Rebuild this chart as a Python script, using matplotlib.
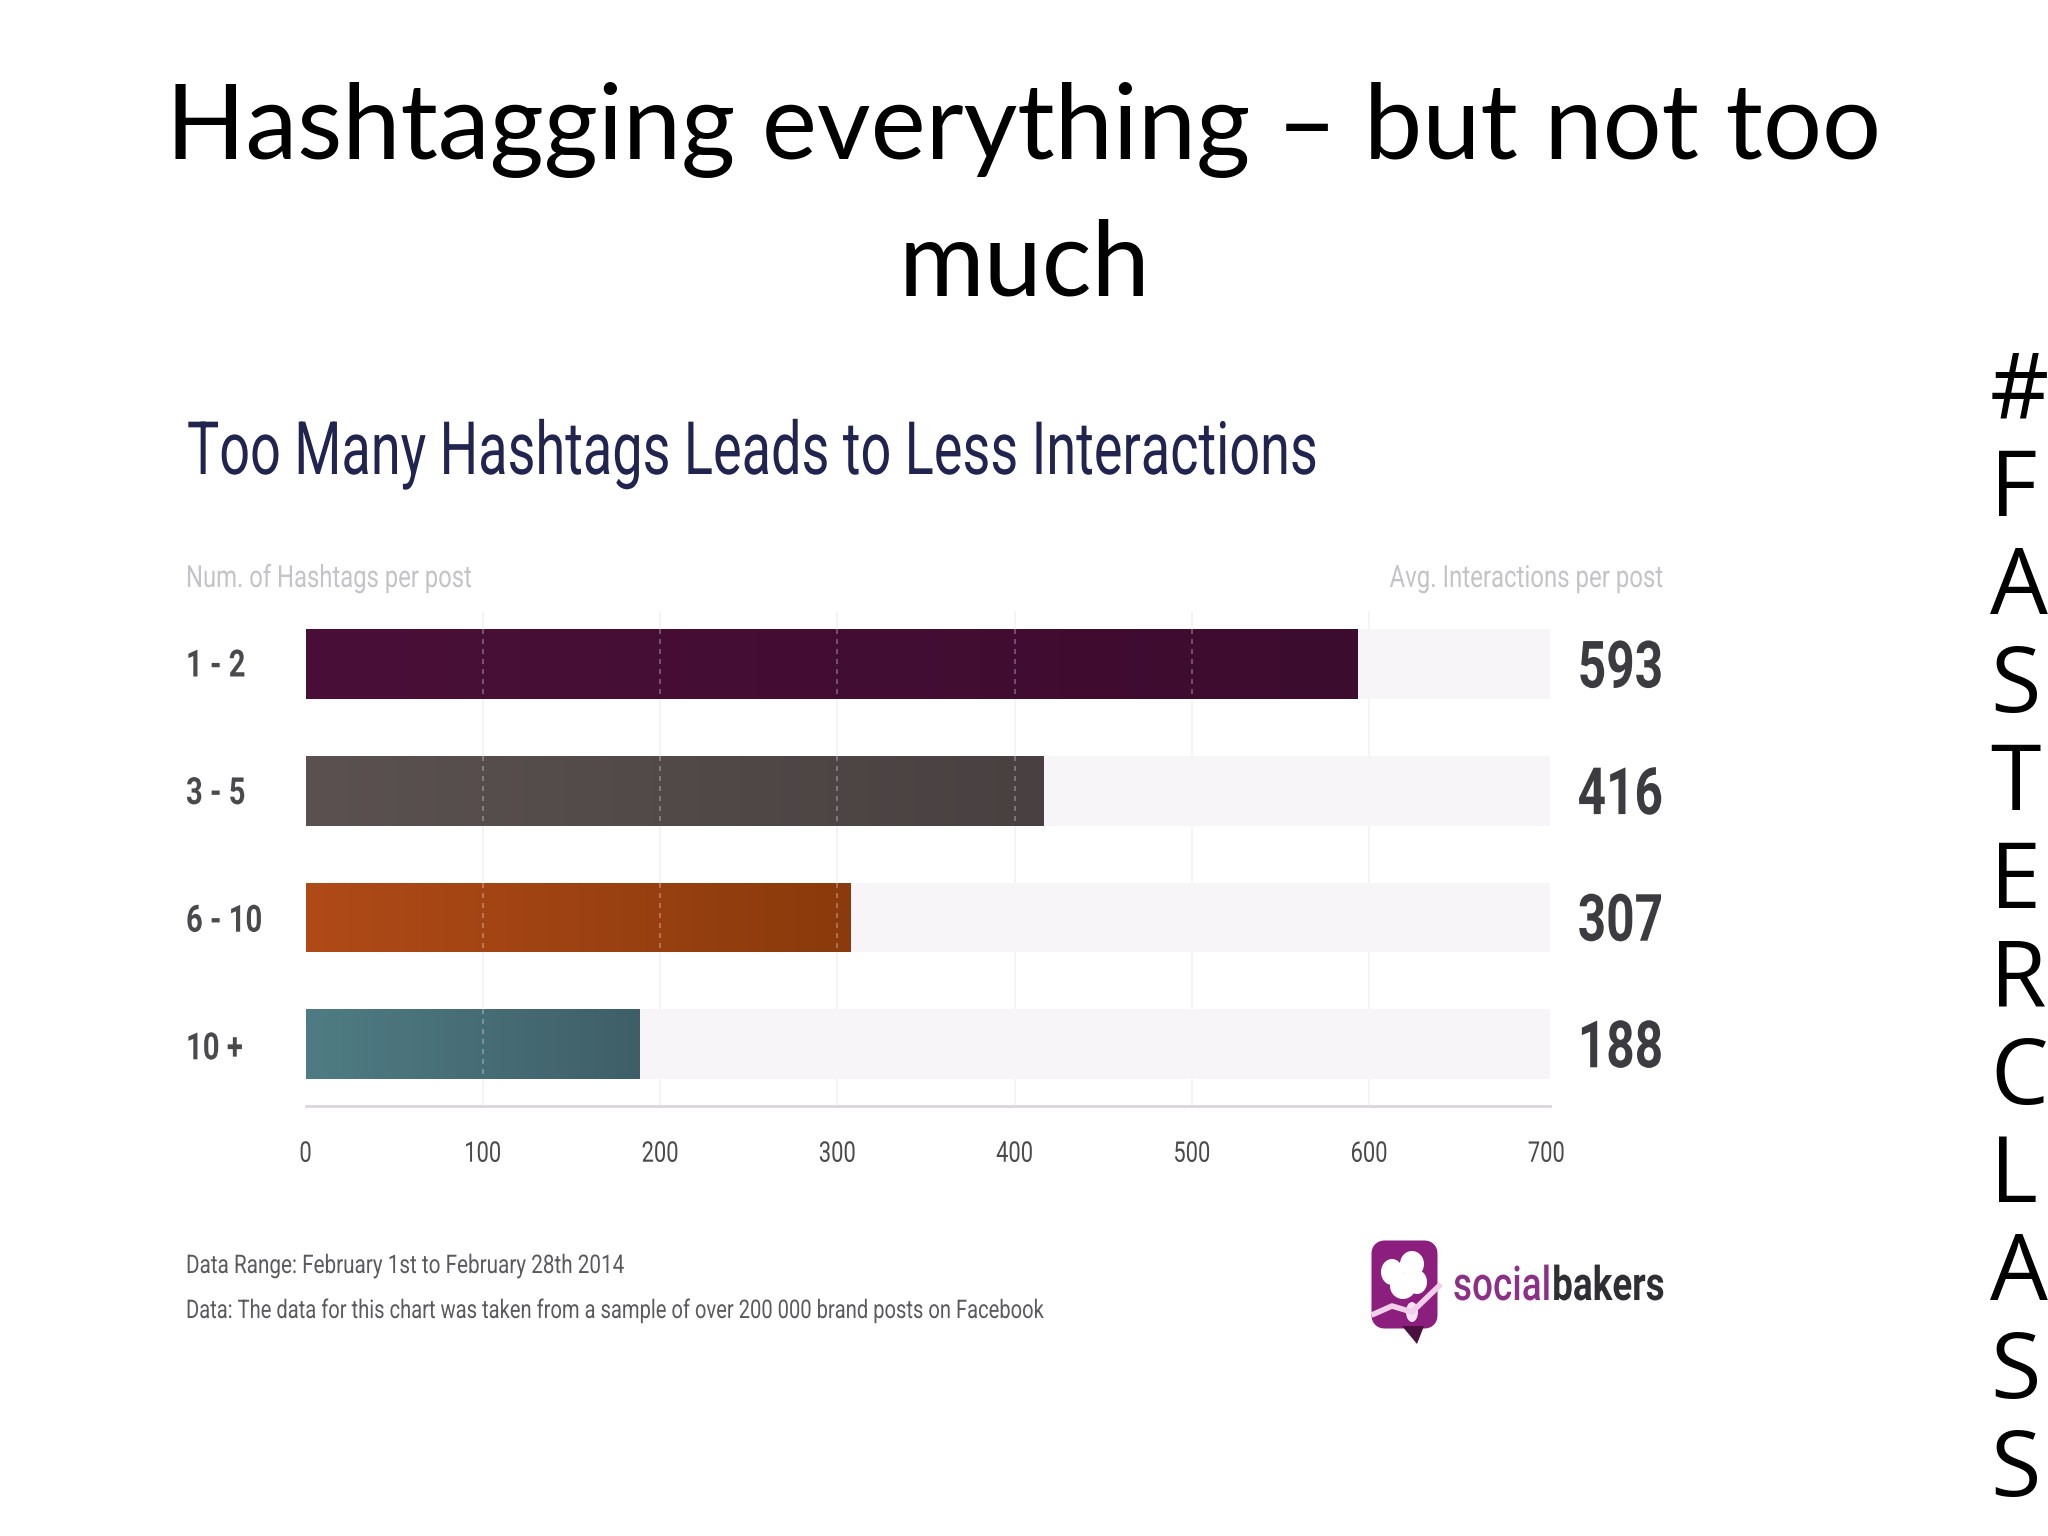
import numpy as np
import matplotlib
matplotlib.use("Agg")
import matplotlib.pyplot as plt
from matplotlib.patches import FancyBboxPatch, Polygon, Ellipse
from matplotlib.patheffects import AbstractPathEffect
from matplotlib.transforms import Affine2D
from matplotlib.colors import LinearSegmentedColormap

hashtag_bins = ["1 - 2", "3 - 5", "6 - 10", "10 +"]
interactions = [593, 416, 307, 188]
bar_left_colors = ["#4a0f38", "#5a5150", "#b04a18", "#4f7c84"]
bar_right_colors = ["#3c0c2e", "#494141", "#8a3a0c", "#3f5f68"]
x_ticks = [0, 100, 200, 300, 400, 500, 600, 700]
x_max = 702
slide_title = ["Hashtagging everything – but not too", "much"]
chart_title = "Too Many Hashtags Leads to Less Interactions"
left_header = "Num. of Hashtags per post"
right_header = "Avg. Interactions per post"
note_range = "Data Range: February 1st to February 28th 2014"
note_data = "Data: The data for this chart was taken from a sample of over 200 000 brand posts on Facebook"
side_text = "#FASTERCLASS"

W, H = 2048, 1536
FONT = "Roboto"


class Condense(AbstractPathEffect):
    """Squeeze a text horizontally about a pixel column (the font has no narrow cut)."""

    def __init__(self, sx, x_px):
        super().__init__()
        self.sx, self.x_px = sx, x_px

    def draw_path(self, renderer, gc, tpath, affine, rgbFace=None):
        squeeze = Affine2D().translate(-self.x_px, 0).scale(self.sx, 1).translate(self.x_px, 0)
        renderer.draw_path(gc, tpath, affine + squeeze, rgbFace)


fig = plt.figure(figsize=(W / 100, H / 100), dpi=100, facecolor="white")

# Full-slide layer in pixel coordinates for the text and logo
bg = fig.add_axes([0, 0, 1, 1], zorder=3)
bg.set_xlim(0, W)
bg.set_ylim(H, 0)
bg.axis("off")
bg.patch.set_alpha(0)


def narrow(x, y, s, sx, anchor=None, **kw):
    t = bg.text(x, y, s, family=FONT, **kw)
    t.set_path_effects([Condense(sx, x if anchor is None else anchor)])
    return t


# Chart axes
left, right, top, bottom = 305.6, 1550, 611, 1106
ax = fig.add_axes([left / W, 1 - bottom / H, (right - left) / W, (bottom - top) / H], zorder=1)
y = np.arange(len(interactions))
ax.barh(y, [x_max] * len(y), height=0.55, color="#f7f5f8", zorder=1)
bars = ax.barh(y, interactions, height=0.55, color=bar_left_colors, zorder=2)
for bar, c0, c1 in zip(bars, bar_left_colors, bar_right_colors):
    cmap = LinearSegmentedColormap.from_list("g", [c0, c1])
    x0, y0, bw, bh = bar.get_x(), bar.get_y(), bar.get_width(), bar.get_height()
    im = ax.imshow(np.linspace(0, 1, 256)[None, :], extent=(x0, x0 + bw, y0 + bh, y0),
                   cmap=cmap, aspect="auto", zorder=2.5)
    im.set_clip_path(bar)
ax.set_xlim(0, x_max)
ax.set_ylim(3.49, -0.42)
ax.set_xticks(x_ticks)
ax.set_xticklabels([str(t) for t in x_ticks], family=FONT, fontsize=20.5, color="#4a4a4a")
ax.set_yticks([])
ax.tick_params(axis="x", length=0, pad=25)
for lab, t in zip(ax.get_xticklabels(), x_ticks):
    lab.set_path_effects([Condense(0.77, left + (right - left) * t / x_max)])
for s in ["top", "right", "left"]:
    ax.spines[s].set_visible(False)
ax.spines["bottom"].set_color("#d9d7da")
ax.spines["bottom"].set_linewidth(2)
for t in x_ticks[1:-1]:
    ax.axvline(t, color="#f3f1f4", lw=1.2, zorder=0.5)
    for i, v in enumerate(interactions):
        if t < v:
            ax.plot([t, t], [i - 0.275, i + 0.275], color="white", alpha=0.33,
                    lw=1.2, ls=(0, (3, 3)), zorder=3)

# Slide title and side text
for py, line in zip([159, 295], slide_title):
    bg.text(1024, py, line, ha="center", va="baseline", family="Lato", fontsize=75, color="black")
for i, ch in enumerate(side_text):
    bg.text(1990, 418 + i * 98, ch, ha="left", va="baseline", family="Open Sans",
            fontsize=66, color="black", clip_on=False)

# Chart texts
narrow(187, 474, chart_title, 0.734, fontsize=53, color="#20244f", va="baseline")
narrow(186, 587, left_header, 0.78, fontsize=22, color="#c4c4c6", va="baseline")
narrow(1663, 587, right_header, 0.785, fontsize=22, color="#c4c4c6", va="baseline", ha="right")
for yy, lab in zip(y, hashtag_bins):
    py = 664 + yy * 126.6
    narrow(186, py + 2 + yy, lab, 0.78, fontsize=27, fontweight="bold", color="#4a4a4c", va="center")
for yy, v in zip(y, interactions):
    py = 664 + yy * 126.6
    narrow(1663, py + 6, str(v), 0.76, fontsize=47, fontweight="bold", color="#3c3c40",
           va="center", ha="right")
narrow(186, 1273, note_range, 0.805, fontsize=18.5, color="#5a5a5c", va="baseline")
narrow(186, 1318, note_data, 0.784, fontsize=18.5, color="#5a5a5c", va="baseline")

# Logo
bg.add_patch(FancyBboxPatch((1384, 1253), 41, 63, boxstyle="round,pad=0,rounding_size=0",
                            fc="#8c1f7e", ec="#8c1f7e", lw=18, joinstyle="round"))
bg.add_patch(Polygon([[1402, 1326], [1424, 1326], [1417, 1344]], fc="#4a1040", ec="none"))
for cx, cy, w, h in [(1392, 1272, 22, 26), (1412, 1264, 24, 26), (1417, 1282, 20, 24), (1403, 1286, 26, 26)]:
    bg.add_patch(Ellipse((cx, cy), w, h, fc="white", ec="none"))
bg.plot([1374, 1392, 1412, 1439], [1314, 1306, 1312, 1286], color="#f2cfe9", lw=4)
bg.add_patch(Ellipse((1412, 1312), 12, 20, fc="#f7e2f3", ec="none"))
logo_sx = 0.78
logo_x = 1453
t1 = narrow(logo_x, 1300, "social", logo_sx, fontsize=34, fontweight="medium", color="#8c2f86", va="baseline")
fig.canvas.draw()
bb = t1.get_window_extent().transformed(bg.transData.inverted())
narrow(bb.x1 + 1, 1300, "bakers", logo_sx, anchor=logo_x, fontsize=34, fontweight="bold",
       color="#2e2e33", va="baseline")

fig.savefig("out.png", dpi=100, facecolor="white")
